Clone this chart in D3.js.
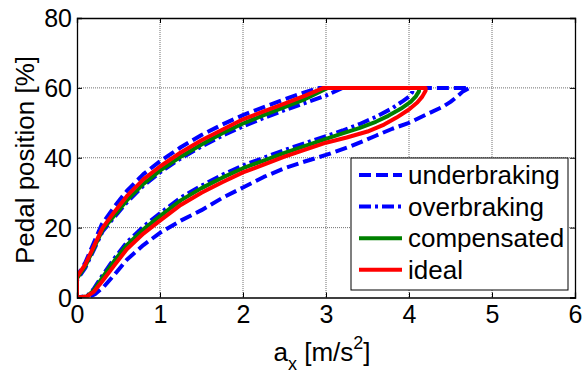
<!DOCTYPE html>
<html>
<head>
<meta charset="utf-8">
<script src="https://cdn.jsdelivr.net/npm/d3@7"></script>
<style>
  html, body { margin: 0; padding: 0; background: #fff; }
  svg { display: block; font-family: "Liberation Sans", Arial, sans-serif; }
</style>
</head>
<body>
<svg id="chart" width="585" height="375"></svg>
<script>
// Pedal position vs. longitudinal deceleration: one loop per braking strategy
const xTicks = [0, 1, 2, 3, 4, 5, 6];
const yTicks = [0, 20, 40, 60, 80];

const underbraking = [[0,0],[0,6],[0.1,10],[0.2,15.5],[0.3,21],[0.45,26],[0.6,30.5],[0.8,35.3],[1,39],[1.25,43],[1.5,46.5],[1.75,49.5],[2,52.2],[2.25,54.5],[2.5,56.7],[2.75,58.8],[2.92,60],[4.73,60],[4.65,59],[4.58,57.5],[4.5,56],[4.4,54.5],[4.2,52.3],[4.0,50],[3.8,48.3],[3.6,46.3],[3.3,43.3],[3.0,40.8],[2.7,38.6],[2.5,37],[2.25,34.5],[2.0,31.5],[1.75,28.5],[1.5,25],[1.25,22],[1.0,18.5],[0.8,15],[0.6,10.8],[0.45,6.5],[0.32,3],[0.22,1],[0.14,0],[0,0]];

const overbraking = [[0,0],[0,5],[0.1,8.5],[0.2,13.5],[0.31,19],[0.45,23],[0.6,27.2],[0.8,32],[1,35.8],[1.25,39.8],[1.5,43.2],[1.75,46.3],[2,49],[2.25,51.4],[2.5,53.6],[2.75,55.7],[3.0,57.8],[3.2,60],[4.04,60],[4.04,58.8],[4.0,57.5],[3.93,56.3],[3.8,54.2],[3.6,51.7],[3.4,49.6],[3.2,47.8],[3.0,46.2],[2.75,44.2],[2.5,42.2],[2.25,40],[2.0,37.8],[1.75,35.1],[1.5,32],[1.25,28.6],[1.0,24.1],[0.8,20.3],[0.6,15.8],[0.45,11.2],[0.3,6.1],[0.2,2.4],[0.12,0.4],[0,0]];

const compensated = [[0,0],[0,5.5],[0.1,9],[0.2,14],[0.31,19.5],[0.45,23.5],[0.6,27.8],[0.8,32.5],[1,36.3],[1.25,40.3],[1.5,43.8],[1.75,47],[2,49.8],[2.25,52.2],[2.5,54.5],[2.75,56.8],[3.02,60],[4.12,60],[4.12,59],[4.08,57.5],[4.02,56],[3.9,54],[3.75,52],[3.6,50.3],[3.4,48.5],[3.2,47],[3.0,45.4],[2.75,43.4],[2.5,41.4],[2.25,39.2],[2.0,37],[1.75,34.3],[1.5,31.3],[1.25,27.8],[1.0,23.3],[0.8,19.5],[0.6,15],[0.45,10.5],[0.3,5.5],[0.2,2],[0.12,0.3],[0,0]];

const ideal = [[0,0],[0,6],[0.1,9.5],[0.2,14.5],[0.31,20],[0.45,24.5],[0.6,29],[0.8,33.8],[1,37.5],[1.25,41.5],[1.5,45],[1.75,48],[2,51],[2.25,53.3],[2.5,55.5],[2.75,57.8],[2.97,60],[4.2,60],[4.2,59.2],[4.16,57.5],[4.1,55.8],[4.0,53.8],[3.85,51.5],[3.7,49.5],[3.5,47.5],[3.25,45.8],[3.0,44.3],[2.75,42.3],[2.5,40.3],[2.25,38],[2.0,35.8],[1.75,33],[1.5,30],[1.25,26.5],[1.0,22],[0.8,18.3],[0.6,13.8],[0.45,9.2],[0.3,4.5],[0.2,1.6],[0.12,0.3],[0,0]];

const seriesNames = ["underbraking", "overbraking", "compensated", "ideal"];
const seriesData = [underbraking, overbraking, compensated, ideal];
const seriesColors = ["#0000ff", "#0000ff", "#008000", "#ff0000"];
const seriesDash = ["12,5", "12,4,3,4", null, null];

const svg = d3.select("#chart");
const plotLeft = 77, plotRight = 575, plotTop = 18, plotBottom = 297.5;

const x = d3.scaleLinear().domain([0, 6]).range([plotLeft, plotRight]);
const y = d3.scaleLinear().domain([0, 80]).range([plotBottom, plotTop]);

// dotted grid
const grid = svg.append("g");
grid.selectAll(".gx").data(xTicks.slice(1, -1)).join("line")
  .attr("x1", d => x(d)).attr("x2", d => x(d))
  .attr("y1", plotTop).attr("y2", plotBottom)
  .attr("stroke", "#707070").attr("stroke-width", 1).attr("stroke-dasharray", "1,1");
grid.selectAll(".gy").data(yTicks.slice(1, -1)).join("line")
  .attr("x1", plotLeft).attr("x2", plotRight)
  .attr("y1", d => y(d)).attr("y2", d => y(d))
  .attr("stroke", "#707070").attr("stroke-width", 1).attr("stroke-dasharray", "1,1");

// data loops
const line = d3.line().x(d => x(d[0])).y(d => y(d[1]));
svg.append("clipPath").attr("id", "plotclip")
  .append("rect").attr("x", plotLeft).attr("y", plotTop - 3)
  .attr("width", plotRight - plotLeft).attr("height", plotBottom - plotTop + 3);
const plot = svg.append("g").attr("clip-path", "url(#plotclip)");
seriesData.forEach((data, i) => {
  plot.append("path")
    .attr("d", line(data))
    .attr("fill", "none")
    .attr("stroke", seriesColors[i])
    .attr("stroke-width", 4)
    .attr("stroke-linejoin", "round")
    .attr("stroke-dasharray", seriesDash[i]);
});

// axes (box with inward ticks)
const axB = d3.axisBottom(x).tickValues(xTicks).tickSize(-5).tickFormat(d3.format("d"));
const axL = d3.axisLeft(y).tickValues(yTicks).tickSize(-5).tickFormat(d3.format("d"));
const axT = d3.axisTop(x).tickValues(xTicks).tickSize(-5).tickFormat("");
const axR = d3.axisRight(y).tickValues(yTicks).tickSize(-5).tickFormat("");

function styleAxis(g) {
  g.select(".domain").attr("stroke", "#000").attr("stroke-width", 1.3);
  g.selectAll(".tick line").attr("stroke", "#000");
  g.selectAll(".tick text").attr("fill", "#000").attr("font-size", 25)
    .attr("font-family", "Liberation Sans, Arial, sans-serif");
}
svg.append("g").attr("transform", `translate(0,${plotBottom})`).call(axB).call(styleAxis)
  .call(g => g.selectAll(".tick text").attr("dy", "0.95em").attr("y", 2));
svg.append("g").attr("transform", `translate(${plotLeft},0)`).call(axL).call(styleAxis)
  .call(g => g.selectAll(".tick text").attr("x", -5).attr("dy", "0.35em"));
svg.append("g").attr("transform", `translate(0,${plotTop})`).call(axT).call(styleAxis);
svg.append("g").attr("transform", `translate(${plotRight},0)`).call(axR).call(styleAxis);

// axis titles
const xt = svg.append("text").attr("x", (plotLeft + plotRight) / 2 - 4).attr("y", 361)
  .attr("text-anchor", "middle").attr("font-size", 26).attr("fill", "#000");
xt.append("tspan").text("a");
xt.append("tspan").attr("font-size", 18).attr("dy", 9).text("x");
xt.append("tspan").attr("dy", -9).text(" [m/s");
xt.append("tspan").attr("font-size", 18).attr("dy", -12).text("2");
xt.append("tspan").attr("dy", 12).text("]");

svg.append("text")
  .attr("transform", `translate(34,160) rotate(-90)`)
  .attr("text-anchor", "middle").attr("font-size", 26).attr("fill", "#000")
  .text("Pedal position [%]");

// legend
const lg = svg.append("g");
lg.append("rect").attr("x", 351).attr("y", 158).attr("width", 217).attr("height", 132)
  .attr("fill", "#fff").attr("stroke", "#000").attr("stroke-width", 1);
seriesNames.forEach((name, i) => {
  const ly = 175 + i * 31.6;
  lg.append("line").attr("x1", 359).attr("x2", 402).attr("y1", ly).attr("y2", ly)
    .attr("stroke", seriesColors[i]).attr("stroke-width", 4)
    .attr("stroke-dasharray", seriesDash[i]);
  lg.append("text").attr("x", 408).attr("y", ly).attr("dy", "0.35em")
    .attr("font-size", 26).attr("fill", "#000").text(name);
});
</script>
</body>
</html>
